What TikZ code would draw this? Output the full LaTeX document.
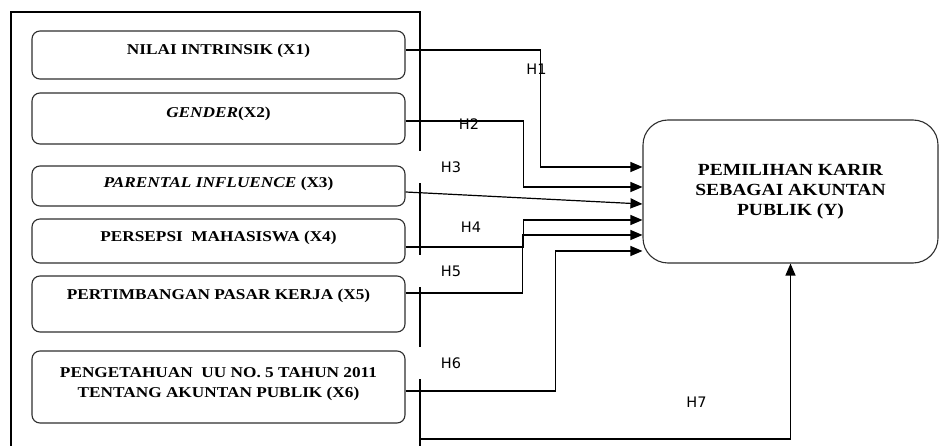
\documentclass[tikz,border=0pt]{standalone}
\usepackage{fontspec}
\usetikzlibrary{arrows.meta}
\usetikzlibrary{calc}
\newfontfamily\kotakfont{Liberation Serif}[FakeStretch=1.15]
\newfontfamily\hipfont{DejaVu Sans}
\definecolor{garis_abu}{HTML}{2E2E2E}

\begin{document}
\begin{tikzpicture}[x=1pt, y=-1pt, >={Triangle[length=12pt,width=10pt]},
  variabel/.style={draw, rectangle, rounded corners=8pt, line width=1.1pt, garis_abu, text=black, minimum width=373pt, inner sep=0pt, anchor=base, align=center, font=\kotakfont\bfseries\fontsize{15}{20}\selectfont},
  hip/.style={inner sep=2pt, font=\hipfont\fontsize{14.5}{16}\selectfont},
  hipputih/.style={hip, fill=white, minimum width=68pt, minimum height=32pt},
  panah/.style={->, line width=1.2pt}]
%\draw[step=50, very thin, red] (0,0) grid (940,446);
\useasboundingbox (0,0) rectangle (940,446);

\draw[line width=1.2pt] (11,446) -- (11,12) -- (420,12) -- (420,446);
\coordinate (bingkai) at (420,439);

\node[variabel, text height=24pt, text depth=24pt] (nilai) at (218.5,55) {NILAI INTRINSIK (X1)};
\node[variabel, text height=25pt, text depth=26pt] (gender) at (218.5,118) {\textit{GENDER}(X2)};
\node[variabel, text height=22pt, text depth=18pt] (parental) at (218.5,188) {\textit{PARENTAL INFLUENCE} (X3)};
\node[variabel, text height=23pt, text depth=21pt] (persepsi) at (218.5,242) {PERSEPSI\ \ MAHASISWA (X4)};
\node[variabel, text height=24pt, text depth=32pt] (pasar) at (218.5,300) {PERTIMBANGAN PASAR KERJA (X5)};
\node[variabel, text height=46pt, text depth=26pt] (pengetahuan) at (218.5,397) {PENGETAHUAN\ \ UU NO. 5 TAHUN 2011\\TENTANG AKUNTAN PUBLIK (X6)};

\node[draw, rectangle, rounded corners=25pt, line width=1.1pt, garis_abu, text=black, minimum width=295pt, minimum height=143pt, align=center, font=\kotakfont\bfseries\fontsize{17}{20}\selectfont] (pemilihan) at (790.5,191.5) {PEMILIHAN KARIR\\SEBAGAI AKUNTAN\\PUBLIK (Y)};

\node[hip] (h1) at (536.5,69) {H1};
\node[hip] (h2) at (469,124) {H2};
\node[hipputih] (h3) at (451,167) {H3};
\node[hip] (h4) at (471,227) {H4};
\node[hipputih] (h5) at (451,271) {H5};
\node[hipputih] (h6) at (451,363) {H6};
\node[hip] (h7) at (696.5,402) {H7};

\draw[panah] ($ (nilai.east) + (0,-5) $) -| ($ (pemilihan.west) + (-102,-24.5) $) -- ($ (pemilihan.west) + (0,-24.5) $);
\draw[panah] ($ (gender.east) + (0,2.5) $) -| ($ (pemilihan.west) + (-119,-4.5) $) -- ($ (pemilihan.west) + (0,-4.5) $);
\draw[panah] ($ (parental.east) + (0,6) $) -- ($ (pemilihan.west) + (0,12.5) $);
\draw[panah] ($ (persepsi.east) + (0,6) $) -| ($ (pemilihan.west) + (-119,28.5) $) -- ($ (pemilihan.west) + (0,28.5) $);
\draw[panah] ($ (pasar.east) + (0,-11) $) -| ($ (pemilihan.west) + (-120,43.5) $) -- ($ (pemilihan.west) + (0,43.5) $);
\draw[panah] ($ (pengetahuan.east) + (0,4) $) -| ($ (pemilihan.west) + (-87,59.5) $) -- ($ (pemilihan.west) + (0,59.5) $);
\draw[panah] (bingkai) -| (pemilihan.south);
\end{tikzpicture}
\end{document}
